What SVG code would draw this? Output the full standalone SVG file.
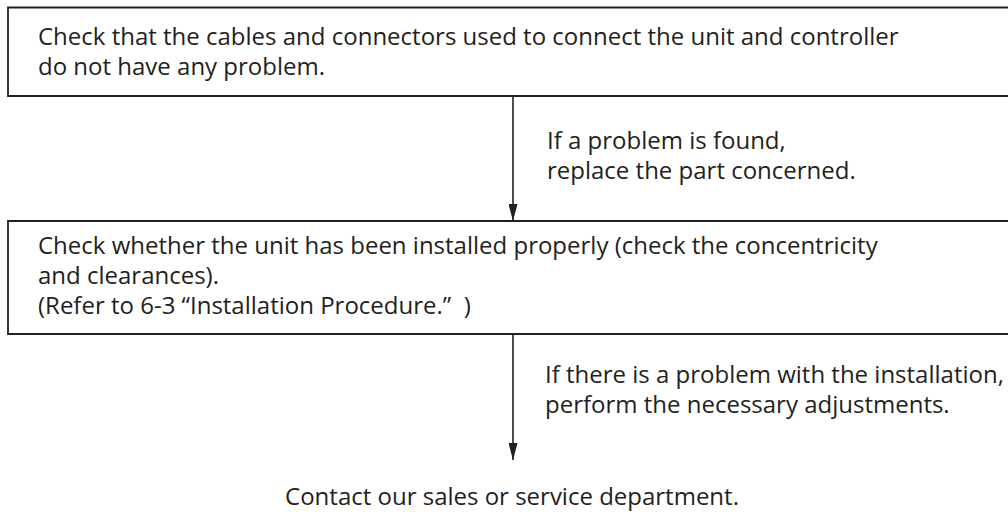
<svg xmlns="http://www.w3.org/2000/svg" width="1008" height="512" viewBox="0 0 1008 512">
<defs>
<style>
text{font-family:"Open Sans","Noto Sans","Liberation Sans",sans-serif;font-size:24px;fill:#231f20}
.box{fill:none;stroke:#231f20;stroke-width:1.8}
.conn{stroke:#231f20;stroke-width:1.6;fill:none}
</style>
<marker id="ah" viewBox="0 0 17 9" refX="17" refY="4.5" markerWidth="17" markerHeight="9" markerUnits="userSpaceOnUse" orient="auto">
<path d="M0,0 L17,4.5 L0,9 Z" fill="#231f20"/>
</marker>
</defs>
<rect width="1008" height="512" fill="#fff"/>
<g id="node1">
<path class="box" d="M1010,7.5 H8 V96 H1010"/>
<text x="38" y="45">Check that the cables and connectors used to connect the unit and controller</text>
<text x="38" y="75">do not have any problem.</text>
</g>
<g id="node2">
<path class="box" d="M1010,221 H8 V334 H1010"/>
<text x="38" y="254">Check whether the unit has been installed properly (check the concentricity</text>
<text x="38" y="284">and clearances).</text>
<text x="38" y="314">(Refer to 6-3 “Installation Procedure.”&#160;&#160;)</text>
</g>
<g id="node3">
<text x="512" y="505" text-anchor="middle">Contact our sales or service department.</text>
</g>
<g id="connectors">
<line class="conn" x1="513" y1="97" x2="513" y2="221" marker-end="url(#ah)"/>
<text x="547" y="149">If a problem is found,</text>
<text x="547" y="179">replace the part concerned.</text>
<line class="conn" x1="513" y1="335" x2="513" y2="460" marker-end="url(#ah)"/>
<text x="545" y="383">If there is a problem with the installation,</text>
<text x="545" y="413">perform the necessary adjustments.</text>
</g>
</svg>
